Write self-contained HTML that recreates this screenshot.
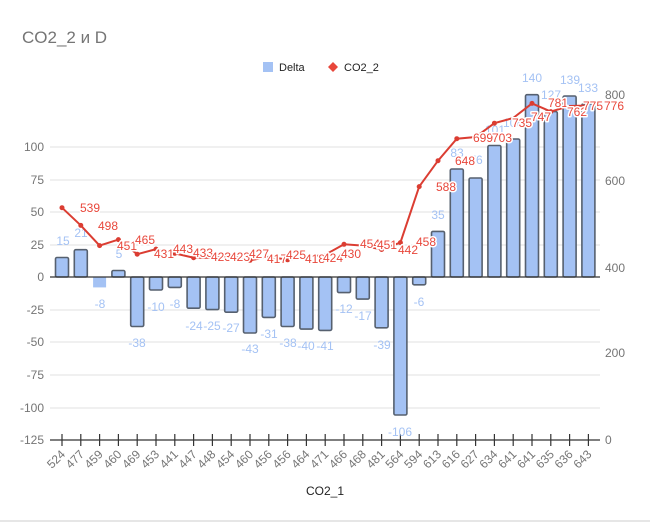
<!DOCTYPE html>
<html><head><meta charset="utf-8"><style>
body{margin:0;background:#fff;}
svg{display:block;font-family:"Liberation Sans",Arial,sans-serif;}
.r{fill:#e8473b;font-size:12px;stroke:#fff;stroke-width:3px;paint-order:stroke;stroke-linejoin:round}
.b{fill:#a4c2f4;font-size:12px;text-anchor:middle}
.ax{fill:#757575;font-size:12px}
</style></head><body>
<svg width="650" height="524" viewBox="0 0 650 524">
<rect width="650" height="524" fill="#fff"/>
<line x1="0" y1="521" x2="650" y2="521" stroke="#ccc"/>
<text x="22" y="43" font-size="17" fill="#757575">CO2_2 и D</text>
<rect x="263" y="62" width="10" height="10" fill="#a4c2f4"/>
<text x="279" y="71" font-size="11" fill="#222">Delta</text>
<path d="M333 62 l5 5 l-5 5 l-5 -5z" fill="#e8473b"/>
<text x="344" y="71" font-size="11" fill="#222">CO2_2</text>
<g stroke="#e0e0e0">
<line x1="50" y1="147" x2="600" y2="147"/><line x1="50" y1="180" x2="600" y2="180"/>
<line x1="50" y1="212" x2="600" y2="212"/><line x1="50" y1="245" x2="600" y2="245"/>
<line x1="50" y1="310" x2="600" y2="310"/><line x1="50" y1="342" x2="600" y2="342"/>
<line x1="50" y1="375" x2="600" y2="375"/><line x1="50" y1="408" x2="600" y2="408"/>
</g>
<g class="ax" text-anchor="end">
<text x="44" y="151">100</text><text x="44" y="184">75</text><text x="44" y="216">50</text>
<text x="44" y="249">25</text><text x="44" y="281">0</text><text x="44" y="314">-25</text>
<text x="44" y="346">-50</text><text x="44" y="379">-75</text><text x="44" y="412">-100</text><text x="44" y="444">-125</text>
</g>
<g class="ax">
<text x="605" y="99">800</text><text x="605" y="185">600</text><text x="605" y="272">400</text>
<text x="605" y="357">200</text><text x="605" y="444">0</text>
</g>
<g fill="#a4c2f4" stroke="#56606f" stroke-width="1.6">
<rect x="55.5" y="257.5" width="13" height="19.5" rx="1.5"/>
<rect x="74.3" y="249.7" width="13" height="27.3" rx="1.5"/>
<rect x="93.1" y="277" width="13" height="10.4" stroke="none"/>
<rect x="111.9" y="270.5" width="13" height="6.5" rx="1.5"/>
<rect x="130.7" y="277" width="13" height="49.5" rx="1.5"/>
<rect x="149.5" y="277" width="13" height="13" rx="1.5"/>
<rect x="168.3" y="277" width="13" height="10.4" rx="1.5"/>
<rect x="187.1" y="277" width="13" height="31.2" rx="1.5"/>
<rect x="205.9" y="277" width="13" height="32.6" rx="1.5"/>
<rect x="224.7" y="277" width="13" height="35.2" rx="1.5"/>
<rect x="243.5" y="277" width="13" height="56" rx="1.5"/>
<rect x="262.3" y="277" width="13" height="40.4" rx="1.5"/>
<rect x="281.1" y="277" width="13" height="49.5" rx="1.5"/>
<rect x="299.9" y="277" width="13" height="52.1" rx="1.5"/>
<rect x="318.7" y="277" width="13" height="53.4" rx="1.5"/>
<rect x="337.5" y="277" width="13" height="15.6" rx="1.5"/>
<rect x="356.3" y="277" width="13" height="22.1" rx="1.5"/>
<rect x="375.1" y="277" width="13" height="50.8" rx="1.5"/>
<rect x="393.9" y="277" width="13" height="138" rx="1.5"/>
<rect x="412.7" y="277" width="13" height="7.8" rx="1.5"/>
<rect x="431.5" y="231.4" width="13" height="45.6" rx="1.5"/>
<rect x="450.3" y="169" width="13" height="108" rx="1.5"/>
<rect x="469.1" y="178" width="13" height="99" rx="1.5"/>
<rect x="487.9" y="145.5" width="13" height="131.5" rx="1.5"/>
<rect x="506.7" y="139" width="13" height="138" rx="1.5"/>
<rect x="525.5" y="94.7" width="13" height="182.3" rx="1.5"/>
<rect x="544.3" y="111.6" width="13" height="165.4" rx="1.5"/>
<rect x="563.1" y="96" width="13" height="181" rx="1.5"/>
<rect x="581.9" y="103.8" width="13" height="173.2" rx="1.5"/>
</g>
<line x1="50" y1="277" x2="600" y2="277" stroke="#333" stroke-width="1.3"/>
<line x1="50" y1="440" x2="600" y2="440" stroke="#333" stroke-width="1.3"/>
<g stroke="#333" stroke-width="1.2">
<path d="M62 434v12M80.8 434v12M99.6 434v12M118.4 434v12M137.2 434v12M156 434v12M174.8 434v12M193.6 434v12M212.4 434v12M231.2 434v12M250 434v12M268.8 434v12M287.6 434v12M306.4 434v12M325.2 434v12M344 434v12M362.8 434v12M381.6 434v12M400.4 434v12M419.2 434v12M438 434v12M456.8 434v12M475.6 434v12M494.4 434v12M513.2 434v12M532 434v12M550.8 434v12M569.6 434v12M588.4 434v12"/>
</g>
<g class="b">
<text x="63" y="245">15</text><text x="81" y="237">21</text><text x="100" y="308">-8</text><text x="119" y="258">5</text>
<text x="137" y="347">-38</text><text x="156" y="311">-10</text><text x="175" y="308">-8</text><text x="194" y="330">-24</text>
<text x="212" y="330">-25</text><text x="231" y="332">-27</text><text x="250" y="353">-43</text><text x="269" y="338">-31</text>
<text x="288" y="347">-38</text><text x="306" y="350">-40</text><text x="325" y="350">-41</text><text x="344" y="313">-12</text>
<text x="363" y="320">-17</text><text x="382" y="349">-39</text><text x="400" y="436">-106</text><text x="419" y="306">-6</text>
<text x="438" y="219">35</text><text x="457" y="157">83</text><text x="476" y="164">76</text><text x="495" y="134">101</text>
<text x="513" y="127">106</text><text x="532" y="82">140</text><text x="551" y="99">127</text><text x="570" y="84">139</text><text x="588" y="92">133</text>
</g>
<polyline fill="none" stroke="#db3d32" stroke-width="2" points="62,207.7 80.8,225.4 99.6,245.6 118.4,239.6 137.2,254.2 156,249.1 174.8,253.4 193.6,257.7 212.4,257.7 231.2,256 250,260.3 268.8,256.8 287.6,259.8 306.4,257.3 325.2,254.7 344,244.3 362.8,245.6 381.6,249.5 400.4,242.6 419.2,186.6 438,160.7 456.8,138.7 475.6,137 494.4,123.2 513.2,118 532,103.4 550.8,111.6 569.6,106 588.4,105.5"/>
<g fill="#db3d32">
<circle cx="62" cy="207.7" r="2.5"/><circle cx="80.8" cy="225.4" r="2.5"/><circle cx="99.6" cy="245.6" r="2.5"/><circle cx="118.4" cy="239.6" r="2.5"/><circle cx="137.2" cy="254.2" r="2.5"/><circle cx="156" cy="249.1" r="2.5"/><circle cx="174.8" cy="253.4" r="2.5"/><circle cx="193.6" cy="257.7" r="2.5"/><circle cx="250" cy="260.3" r="2.5"/><circle cx="287.6" cy="259.8" r="2.5"/><circle cx="344" cy="244.3" r="2.5"/><circle cx="381.6" cy="249.5" r="2.5"/><circle cx="400.4" cy="242.6" r="2.5"/><circle cx="419.2" cy="186.6" r="2.5"/><circle cx="438" cy="160.7" r="2.5"/><circle cx="456.8" cy="138.7" r="2.5"/><circle cx="494.4" cy="123.2" r="2.5"/><circle cx="532" cy="103.4" r="2.5"/><circle cx="550.8" cy="111.6" r="2.5"/>
</g>
<g class="r">
<text x="80" y="212">539</text><text x="98" y="230">498</text><text x="117" y="250">451</text><text x="135" y="244">465</text>
<text x="154" y="258">431</text><text x="173" y="253">443</text><text x="193" y="257">433</text><text x="211" y="261">423</text>
<text x="230" y="261">423</text><text x="249" y="258">427</text><text x="267" y="263">417</text><text x="286" y="259">425</text>
<text x="305" y="263">418</text><text x="323" y="262">424</text><text x="341" y="258">430</text><text x="360" y="248">454</text>
<text x="377" y="249">451</text><text x="398" y="254">442</text><text x="416" y="246">458</text><text x="436" y="191">588</text>
<text x="455" y="165">648</text><text x="473" y="142">699</text><text x="492" y="142">703</text><text x="512" y="127">735</text>
<text x="531" y="121">747</text><text x="548" y="107">781</text><text x="567" y="116">762</text><text x="583" y="110">775</text><text x="604" y="110">776</text>
</g>
<g class="ax" text-anchor="end">
<text transform="translate(66,455) rotate(-45)">524</text><text transform="translate(84.8,455) rotate(-45)">477</text>
<text transform="translate(103.6,455) rotate(-45)">459</text><text transform="translate(122.4,455) rotate(-45)">460</text>
<text transform="translate(141.2,455) rotate(-45)">469</text><text transform="translate(160,455) rotate(-45)">453</text>
<text transform="translate(178.8,455) rotate(-45)">441</text><text transform="translate(197.6,455) rotate(-45)">447</text>
<text transform="translate(216.4,455) rotate(-45)">448</text><text transform="translate(235.2,455) rotate(-45)">454</text>
<text transform="translate(254,455) rotate(-45)">460</text><text transform="translate(272.8,455) rotate(-45)">456</text>
<text transform="translate(291.6,455) rotate(-45)">456</text><text transform="translate(310.4,455) rotate(-45)">464</text>
<text transform="translate(329.2,455) rotate(-45)">471</text><text transform="translate(348,455) rotate(-45)">466</text>
<text transform="translate(366.8,455) rotate(-45)">468</text><text transform="translate(385.6,455) rotate(-45)">481</text>
<text transform="translate(404.4,455) rotate(-45)">564</text><text transform="translate(423.2,455) rotate(-45)">594</text>
<text transform="translate(442,455) rotate(-45)">613</text><text transform="translate(460.8,455) rotate(-45)">616</text>
<text transform="translate(479.6,455) rotate(-45)">627</text><text transform="translate(498.4,455) rotate(-45)">634</text>
<text transform="translate(517.2,455) rotate(-45)">641</text><text transform="translate(536,455) rotate(-45)">641</text>
<text transform="translate(554.8,455) rotate(-45)">635</text><text transform="translate(573.6,455) rotate(-45)">636</text>
<text transform="translate(592.4,455) rotate(-45)">643</text>
</g>
<text x="325" y="495" font-size="12" fill="#222" text-anchor="middle">CO2_1</text>
</svg>
</body></html>
